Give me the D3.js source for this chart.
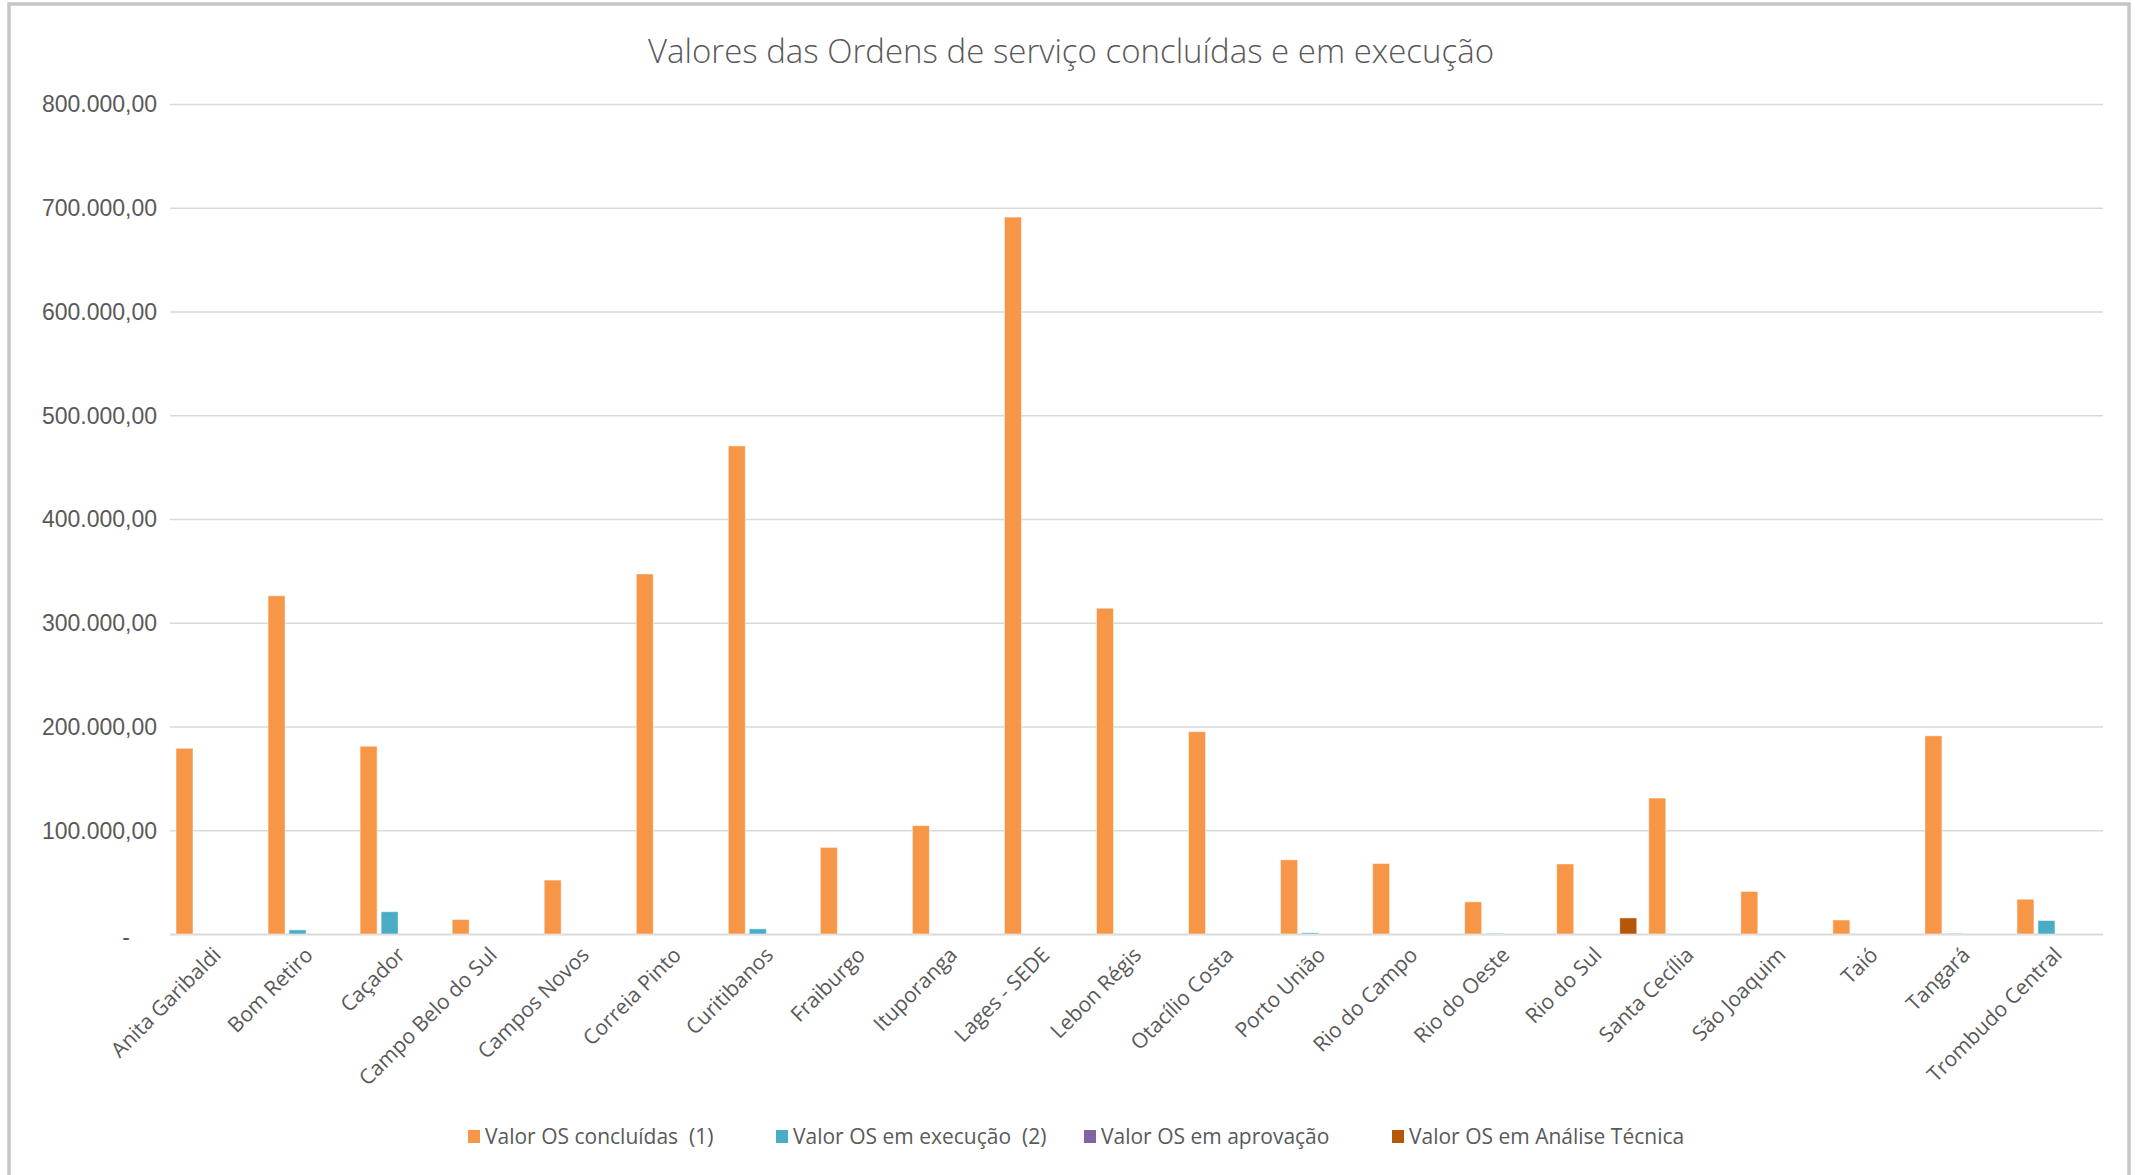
<!DOCTYPE html>
<html>
<head>
<meta charset="utf-8">
<script src="https://cdn.jsdelivr.net/npm/d3@7"></script>
<style>
  html, body { margin: 0; padding: 0; background: #fff; }
  svg { display: block; font-family: "Open Sans", "DejaVu Sans", sans-serif; }
</style>
</head>
<body>
<svg id="chart" width="2135" height="1175"></svg>
<script>
// Chart data
const title = "Valores das Ordens de serviço concluídas e em execução";

const categories = [
  "Anita Garibaldi", "Bom Retiro", "Caçador", "Campo Belo do Sul", "Campos Novos",
  "Correia Pinto", "Curitibanos", "Fraiburgo", "Ituporanga", "Lages - SEDE",
  "Lebon Régis", "Otacílio Costa", "Porto União", "Rio do Campo", "Rio do Oeste",
  "Rio do Sul", "Santa Cecília", "São Joaquim", "Taió", "Tangará", "Trombudo Central"
];

const seriesNames = [
  "Valor OS concluídas  (1)",
  "Valor OS em execução  (2)",
  "Valor OS em aprovação",
  "Valor OS em Análise Técnica"
];

const concluidas = [
  179000, 326000, 181000, 14000, 52000, 347000, 470500, 83500, 104500, 691000,
  314000, 195000, 71500, 68000, 31000, 67500, 131000, 41000, 13500, 191000, 33500
];
const emExecucao = [
  0, 4000, 21500, 0, 0, 0, 5000, 0, 0, 0,
  0, 0, 1200, 0, 600, 0, 0, 0, 0, 600, 13000
];
const emAprovacao = [
  0, 0, 0, 0, 0, 0, 0, 0, 0, 0,
  0, 0, 0, 0, 0, 0, 0, 0, 0, 0, 0
];
const emAnalise = [
  0, 0, 0, 0, 0, 0, 0, 0, 0, 0,
  0, 0, 0, 0, 0, 15500, 0, 0, 0, 0, 0
];

const yTicks = [0, 100000, 200000, 300000, 400000, 500000, 600000, 700000, 800000];
const colors = ["#F79646", "#4BACC6", "#8064A2", "#B65708"];

// Layout
const W = 2135, H = 1175;
const plot = { left: 170, right: 2103, top: 104, bottom: 934 };
const textColor = "#595959";

const svg = d3.select("#chart");

// Outer chart frame
svg.append("rect")
  .attr("x", 9)
  .attr("y", 4)
  .attr("width", 2120)
  .attr("height", H + 10)
  .attr("fill", "#fff")
  .attr("stroke", "#C6C6C6")
  .attr("stroke-width", 3.5);

// Scales
const x = d3.scaleBand()
  .domain(categories)
  .range([plot.left, plot.right])
  .paddingInner(0)
  .paddingOuter(0);

const xInner = d3.scaleBand()
  .domain(d3.range(seriesNames.length))
  .range([6, x.bandwidth() - 6])
  .paddingInner(0.19)
  .paddingOuter(0);

const y = d3.scaleLinear()
  .domain([0, 800000])
  .range([plot.bottom, plot.top]);

// pt-BR number format
const locale = d3.formatLocale({ decimal: ",", thousands: ".", grouping: [3], currency: ["", ""] });
const fmt = locale.format(",.2f");

// Gridlines
const yAxis = d3.axisLeft(y)
  .tickValues(yTicks)
  .tickSize(-(plot.right - plot.left))
  .tickPadding(13)
  .tickFormat(d => d === 0 ? "-" : fmt(d));

const yAxisG = svg.append("g")
  .attr("class", "y-axis")
  .attr("transform", `translate(${plot.left}, 0)`)
  .call(yAxis);

yAxisG.select(".domain").remove();
yAxisG.selectAll(".tick line")
  .attr("stroke", "#D9D9D9")
  .attr("stroke-width", d => d === 0 ? 2 : 1.5);
yAxisG.selectAll(".tick text")
  .attr("fill", textColor)
  .style("font-size", "23px")
  .attr("dx", d => d === 0 ? -27 : 0)
  .attr("dy", d => d === 0 ? "0.45em" : "0.34em");

// Bars
const seriesData = [concluidas, emExecucao, emAprovacao, emAnalise];

const groups = svg.append("g")
  .attr("class", "bars")
  .selectAll("g")
  .data(categories)
  .join("g")
  .attr("transform", d => `translate(${x(d)}, 0)`);

groups.selectAll("rect")
  .data((d, i) => seriesData.map((s, k) => ({ k, value: s[i] })).filter(e => e.value > 0))
  .join("rect")
  .attr("x", d => xInner(d.k))
  .attr("width", xInner.bandwidth())
  .attr("y", d => y(d.value))
  .attr("height", d => y(0) - y(d.value))
  .attr("fill", d => colors[d.k])
  .attr("stroke", "#fff")
  .attr("stroke-opacity", 0.5)
  .attr("stroke-width", 1);

// Category labels, rotated
svg.append("g")
  .attr("class", "x-labels")
  .selectAll("text")
  .data(categories)
  .join("text")
  .attr("transform", d => `translate(${x(d) + x.bandwidth() / 2 + 1}, ${plot.bottom + 17}) rotate(-45)`)
  .attr("text-anchor", "end")
  .attr("dy", "0.35em")
  .attr("fill", textColor)
  .style("font-size", "21px")
  .text(d => d);

// Title
svg.append("text")
  .attr("x", 1071)
  .attr("y", 63)
  .attr("text-anchor", "middle")
  .attr("fill", textColor)
  .style("font-size", "33px")
  .style("font-weight", 300)
  .text(title);

// Legend
const legendStart = 468, legendStep = 308, legendY = 1137;
const legend = svg.append("g")
  .attr("class", "legend")
  .selectAll("g")
  .data(seriesNames)
  .join("g")
  .attr("transform", (d, i) => `translate(${legendStart + i * legendStep}, ${legendY})`);

legend.append("rect")
  .attr("x", 0)
  .attr("y", -7)
  .attr("width", 12)
  .attr("height", 13)
  .attr("fill", (d, i) => colors[i]);

legend.append("text")
  .attr("x", 17)
  .attr("dy", "0.35em")
  .attr("fill", textColor)
  .attr("xml:space", "preserve")
  .style("white-space", "pre")
  .style("font-size", "21px")
  .text(d => d);
</script>
</body>
</html>
